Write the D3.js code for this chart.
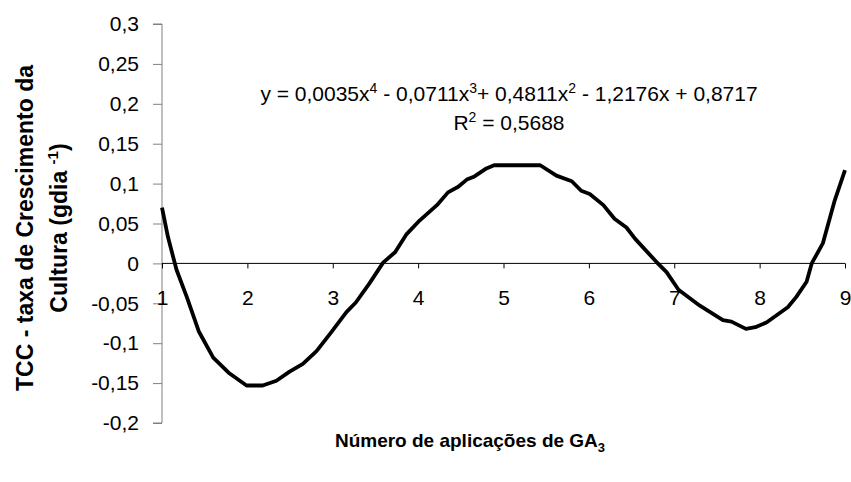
<!DOCTYPE html>
<html><head><meta charset="utf-8">
<script src="https://cdn.jsdelivr.net/npm/d3@7"></script>
<style>body{margin:0;background:#fff;} text{font-family:Arial,"Liberation Sans",sans-serif;}</style>
</head><body>
<svg id="c" width="851" height="482"></svg>
<script>
// Data
const xValues = [1.00,1.07,1.17,1.29,1.43,1.60,1.78,1.99,2.18,2.34,2.49,2.65,2.81,2.97,3.16,3.27,3.43,3.59,3.73,3.86,4.02,4.22,4.35,4.47,4.57,4.66,4.80,4.89,5.43,5.62,5.80,5.91,6.01,6.17,6.30,6.44,6.54,6.79,6.91,7.05,7.30,7.57,7.67,7.84,7.95,8.08,8.33,8.43,8.55,8.61,8.74,8.88,9.00];
const yValues = [0.070,0.033,-0.008,-0.042,-0.085,-0.118,-0.137,-0.153,-0.153,-0.147,-0.136,-0.126,-0.110,-0.088,-0.061,-0.049,-0.025,0.001,0.014,0.036,0.054,0.073,0.089,0.096,0.105,0.109,0.119,0.123,0.123,0.110,0.103,0.091,0.087,0.073,0.056,0.045,0.031,0.002,-0.011,-0.033,-0.053,-0.071,-0.073,-0.082,-0.080,-0.074,-0.055,-0.042,-0.023,0.000,0.025,0.079,0.117];
const xTicks = [1,2,3,4,5,6,7,8,9];
const yTicks = [0.3,0.25,0.2,0.15,0.1,0.05,0,-0.05,-0.1,-0.15,-0.2];
const yTickLabels = ["0,3","0,25","0,2","0,15","0,1","0,05","0","-0,05","-0,1","-0,15","-0,2"];

const svg = d3.select("#c");
const x = d3.scaleLinear().domain([1,9]).range([162,845]);
const y = d3.scaleLinear().domain([-0.2,0.3]).range([423,24]);

// Y axis (gray)
const yAxis = d3.axisLeft(y).tickValues(yTicks).tickSize(9).tickPadding(14)
  .tickFormat((d,i)=>yTickLabels[i]);
const gy = svg.append("g").attr("transform","translate(162,0)").call(yAxis);
gy.select(".domain").attr("stroke","#808080").attr("d","M-9,"+y(0.3)+"H0V"+y(-0.2)+"H-9");
gy.selectAll(".tick line").attr("stroke","#808080");
gy.selectAll(".tick text").attr("font-size",21).attr("fill","#000").attr("font-family","Arial, 'Liberation Sans', sans-serif");

// X axis at y=0 (black)
const xAxis = d3.axisBottom(x).tickValues(xTicks).tickSize(5).tickPadding(22).tickFormat(d=>d);
const gx = svg.append("g").attr("transform","translate(0,"+y(0)+")").call(xAxis);
gx.select(".domain").attr("stroke","#000").attr("d","M"+x(1)+",0H"+x(9));
gx.selectAll(".tick line").attr("stroke","#000");
gx.selectAll(".tick text").attr("font-size",21).attr("fill","#000").attr("font-family","Arial, 'Liberation Sans', sans-serif");

// Curve
const pts = xValues.map((v,i)=>[v,yValues[i]]);
svg.append("path").datum(pts)
  .attr("fill","none").attr("stroke","#000").attr("stroke-width",3.8)
  .attr("stroke-linejoin","round")
  .attr("d", d3.line().x(d=>x(d[0])).y(d=>y(d[1])));

// Equation
const eq = svg.append("text").attr("x",509).attr("y",93).attr("text-anchor","middle").attr("font-size",21);
const parts = [["y = 0,0035x",0],["4",1],[" - 0,0711x",0],["3",1],["+ 0,4811x",0],["2",1],[" - 1,2176x + 0,8717",0]];
parts.forEach(p=>{
  if(p[1]) eq.append("tspan").attr("font-size",14).attr("dy",-8).text(p[0]);
  else eq.append("tspan").attr("dy", eq.selectAll("tspan").size()?8:0).text(p[0]);
});
const r2 = svg.append("text").attr("x",509).attr("y",130).attr("text-anchor","middle").attr("font-size",21);
r2.append("tspan").text("R");
r2.append("tspan").attr("font-size",14).attr("dy",-8).text("2");
r2.append("tspan").attr("dy",8).text(" = 0,5688");

// Y title
const yt = svg.append("g").attr("transform","translate(25,228) rotate(-90)");
yt.append("text").attr("text-anchor","middle").attr("y",8).attr("font-size",23).attr("font-weight","bold").text("TCC - taxa de Crescimento da");
const yt2 = yt.append("text").attr("text-anchor","middle").attr("y",42).attr("font-size",23).attr("font-weight","bold");
yt2.append("tspan").text("Cultura (gdia ");
yt2.append("tspan").attr("font-size",15).attr("dy",-9).text("-1");
yt2.append("tspan").attr("dy",9).text(")");

// X title
const xt = svg.append("text").attr("x",470).attr("y",447).attr("text-anchor","middle").attr("font-size",19).attr("font-weight","bold");
xt.append("tspan").text("Número de aplicações de GA");
xt.append("tspan").attr("font-size",13).attr("dy",5).text("3");
</script>
</body></html>
